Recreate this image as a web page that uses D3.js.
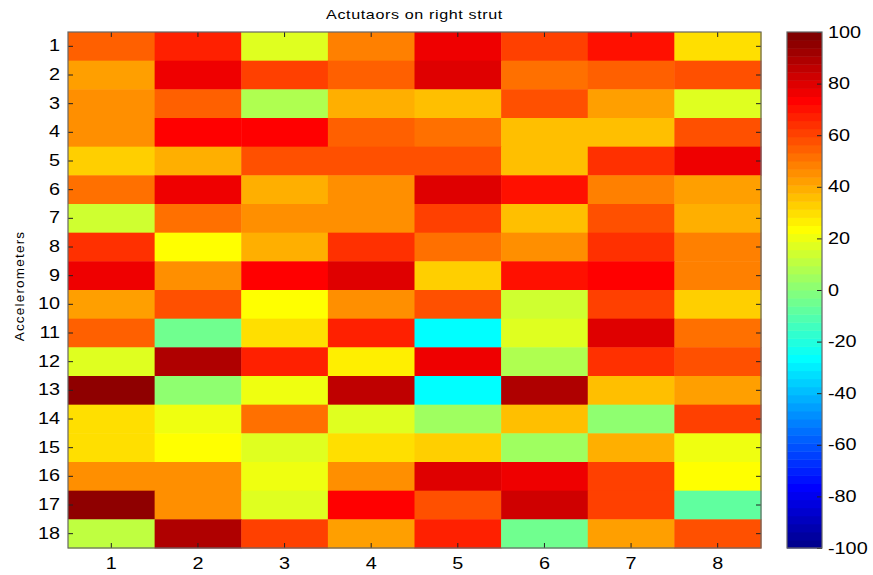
<!DOCTYPE html>
<html>
<head>
<meta charset="utf-8">
<script src="https://cdn.jsdelivr.net/npm/d3@7"></script>
<style>
  html, body { margin: 0; padding: 0; background: #fff; }
  svg { display: block; font-family: "Liberation Sans", Arial, sans-serif; }
</style>
</head>
<body>
<svg id="chart" width="873" height="575"></svg>
<script>
// Actuator index (columns) and accelerometer index (rows)
const actuators = [1, 2, 3, 4, 5, 6, 7, 8];
const accelerometers = [1, 2, 3, 4, 5, 6, 7, 8, 9, 10, 11, 12, 13, 14, 15, 16, 17, 18];

// One row of values per accelerometer, one entry per actuator
const row1  = [54, 67, 17, 48, 76, 61, 70, 29];
const row2  = [42, 76, 61, 54, 79, 51, 54, 57];
const row3  = [45, 54, 8, 39, 36, 57, 42, 17];
const row4  = [45, 73, 73, 54, 51, 36, 36, 57];
const row5  = [32, 39, 57, 57, 57, 36, 64, 76];
const row6  = [51, 76, 39, 45, 79, 70, 48, 42];
const row7  = [14, 51, 45, 45, 61, 36, 57, 39];
const row8  = [64, 23, 39, 64, 51, 45, 64, 48];
const row9  = [76, 45, 73, 79, 32, 70, 73, 48];
const row10 = [42, 57, 23, 45, 57, 14, 61, 32];
const row11 = [54, -5, 29, 67, -26, 17, 79, 51];
const row12 = [17, 89, 67, 26, 76, 8, 64, 57];
const row13 = [95, 1.5, 20, 86, -26, 89, 36, 42];
const row14 = [29, 20, 51, 17, 4, 36, 1.5, 61];
const row15 = [29, 23, 17, 29, 32, 4, 39, 20];
const row16 = [45, 45, 20, 45, 79, 76, 61, 23];
const row17 = [95, 45, 17, 73, 57, 83, 61, -8];
const row18 = [11, 89, 61, 42, 67, -5, 42, 57];
const rows = [row1, row2, row3, row4, row5, row6, row7, row8, row9,
              row10, row11, row12, row13, row14, row15, row16, row17, row18];

// Colour limits and colorbar tick labels
const colorLimits = [-100, 100];
const colorbarTicks = [-100, -80, -60, -40, -20, 0, 20, 40, 60, 80, 100];

const title = "Actutaors on right strut";
const yTitle = "Accelerometers";

// 64-step jet colormap
function jet(m) {
  const n = Math.ceil(m / 4);
  const u = [];
  for (let i = 1; i <= n; i++) u.push(i / n);
  for (let i = 1; i < n; i++) u.push(1);
  for (let i = n; i >= 1; i--) u.push(i / n);
  const off = Math.ceil(n / 2) - (m % 4 === 1 ? 1 : 0);
  const J = Array.from({ length: m }, () => [0, 0, 0]);
  const g = u.map((_, i) => off + i + 1);
  const r = g.map(v => v + n).filter(v => v <= m);
  const b = g.map(v => v - n).filter(v => v >= 1);
  const gg = g.filter(v => v <= m);
  r.forEach((idx, i) => J[idx - 1][0] = u[i]);
  gg.forEach((idx, i) => J[idx - 1][1] = u[i]);
  b.forEach((idx, i) => J[idx - 1][2] = u[u.length - b.length + i]);
  return J.map(c => d3.rgb(c[0] * 255, c[1] * 255, c[2] * 255).formatHex());
}
const palette = jet(64);

const svg = d3.select("#chart");
const plot = { left: 68, right: 761, top: 32, bottom: 548 };
const cbar = { left: 787, right: 822 };
const sx = 1.24;          // horizontal stretch of the lettering
const tickLen = 5;
const fontSize = 16;

const x = d3.scaleBand().domain(actuators).range([plot.left, plot.right]).padding(0);
const y = d3.scaleBand().domain(accelerometers).range([plot.top, plot.bottom]).padding(0);
const color = d3.scaleQuantize().domain(colorLimits).range(palette);

// Heatmap cells
const cells = [];
rows.forEach((row, i) => row.forEach((v, j) => cells.push({ r: accelerometers[i], c: actuators[j], v })));
svg.append("g").selectAll("rect").data(cells).join("rect")
  .attr("x", d => x(d.c))
  .attr("y", d => y(d.r))
  .attr("width", x.bandwidth() + 0.5)
  .attr("height", y.bandwidth() + 0.5)
  .attr("fill", d => color(d.v));

// Axes with inward ticks on all sides
function styleAxis(g) {
  g.select(".domain").remove();
  g.selectAll(".tick line").attr("stroke", "#222").attr("stroke-width", 1);
  g.selectAll(".tick text")
    .attr("fill", "#000")
    .style("font-size", fontSize + "px")
    .attr("x", function () { return (+this.getAttribute("x") || 0) / sx; })
    .attr("transform", `scale(${sx},1)`);
}
const plain = d => String(d);
svg.append("g").attr("transform", `translate(0,${plot.bottom})`)
  .call(d3.axisBottom(x).tickSizeInner(-tickLen).tickSizeOuter(0).tickPadding(9.5).tickFormat(plain))
  .call(styleAxis);
svg.append("g").attr("transform", `translate(0,${plot.top})`)
  .call(d3.axisTop(x).tickSizeInner(-tickLen).tickSizeOuter(0).tickFormat(""))
  .call(styleAxis);
svg.append("g").attr("transform", `translate(${plot.left},0)`)
  .call(d3.axisLeft(y).tickSizeInner(-tickLen).tickSizeOuter(0).tickPadding(8).tickFormat(plain))
  .call(styleAxis);
svg.append("g").attr("transform", `translate(${plot.right},0)`)
  .call(d3.axisRight(y).tickSizeInner(-tickLen).tickSizeOuter(0).tickFormat(""))
  .call(styleAxis);

svg.append("rect")
  .attr("x", plot.left).attr("y", plot.top)
  .attr("width", plot.right - plot.left).attr("height", plot.bottom - plot.top)
  .attr("fill", "none").attr("stroke", "#666").attr("stroke-width", 1.2);

// Title and y-axis title
svg.append("text")
  .attr("transform", `translate(${(plot.left + plot.right) / 2},19) scale(${sx},1)`)
  .attr("text-anchor", "middle")
  .style("font-size", "13px").style("letter-spacing", "0.5px")
  .text(title);
svg.append("text")
  .attr("transform", `translate(24,286) rotate(-90)`)
  .attr("text-anchor", "middle")
  .style("font-size", "13.5px").style("letter-spacing", "1.2px")
  .text(yTitle);

// Colorbar
const cy = d3.scaleLinear().domain(colorLimits).range([plot.bottom, plot.top]);
const step = (colorLimits[1] - colorLimits[0]) / palette.length;
svg.append("g").selectAll("rect").data(palette).join("rect")
  .attr("x", cbar.left)
  .attr("y", (d, i) => cy(colorLimits[0] + (i + 1) * step))
  .attr("width", cbar.right - cbar.left)
  .attr("height", cy(colorLimits[0]) - cy(colorLimits[0] + step) + 0.5)
  .attr("fill", d => d);
svg.append("g").attr("transform", `translate(${cbar.right},0)`)
  .call(d3.axisRight(cy).tickValues(colorbarTicks).tickSizeInner(-tickLen).tickSizeOuter(0).tickPadding(6).tickFormat(plain))
  .call(styleAxis);
svg.append("rect")
  .attr("x", cbar.left).attr("y", plot.top)
  .attr("width", cbar.right - cbar.left).attr("height", plot.bottom - plot.top)
  .attr("fill", "none").attr("stroke", "#666").attr("stroke-width", 1.2);
</script>
</body>
</html>
